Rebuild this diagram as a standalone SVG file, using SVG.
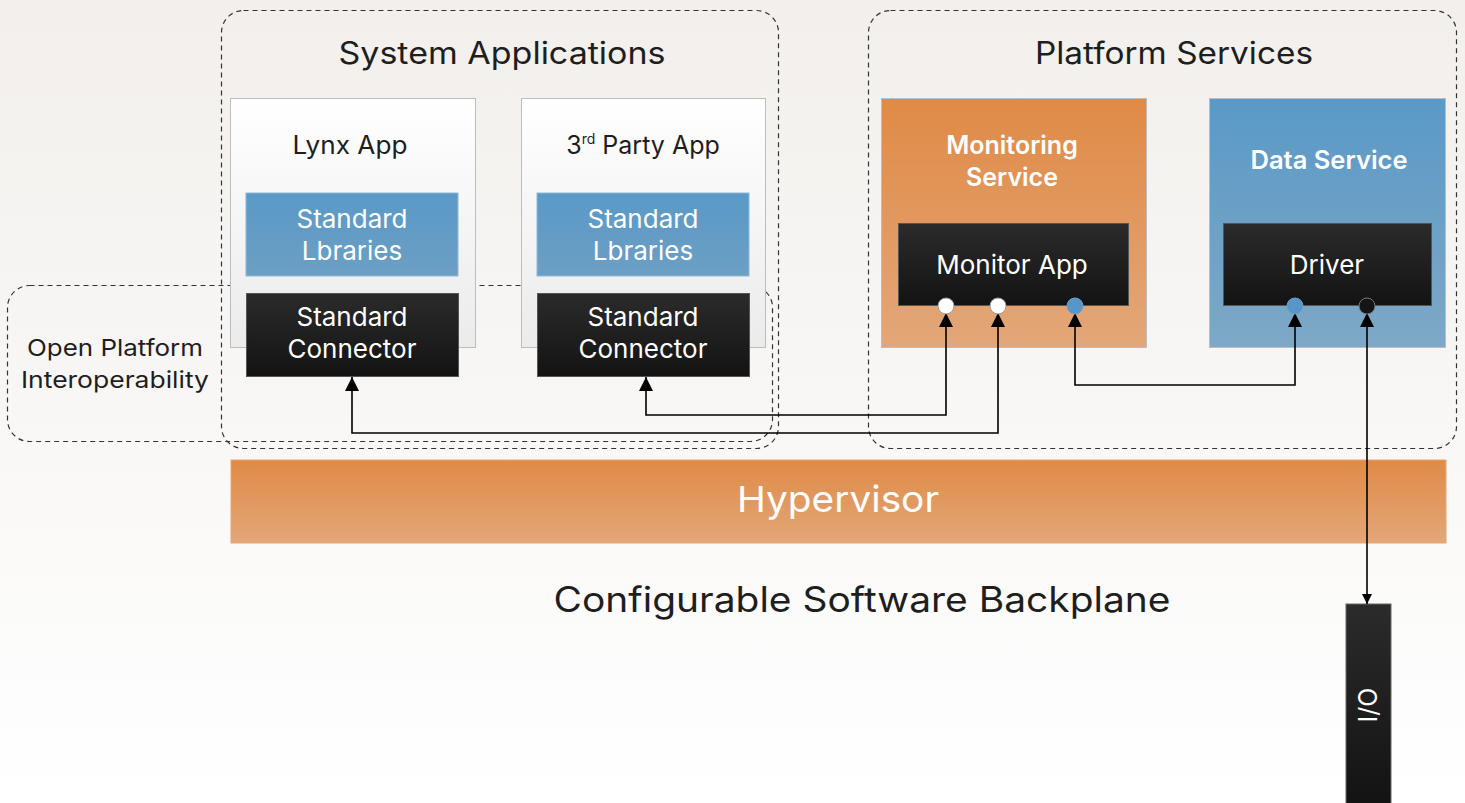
<svg xmlns="http://www.w3.org/2000/svg" width="1465" height="803" viewBox="0 0 1465 803">
<defs>
<linearGradient id="bg" x1="0" y1="0" x2="0" y2="1"><stop offset="0" stop-color="#f2efec"/><stop offset="1" stop-color="#ffffff"/></linearGradient>
<linearGradient id="org" x1="0" y1="0" x2="0" y2="1"><stop offset="0" stop-color="#e08a46"/><stop offset="1" stop-color="#e3a779"/></linearGradient>
<linearGradient id="blu" x1="0" y1="0" x2="0" y2="1"><stop offset="0" stop-color="#5a99c7"/><stop offset="1" stop-color="#7ea8c6"/></linearGradient>
<linearGradient id="lib" x1="0" y1="0" x2="0" y2="1"><stop offset="0" stop-color="#5a99c7"/><stop offset="1" stop-color="#6c9fc4"/></linearGradient>
<linearGradient id="blk" x1="0" y1="0" x2="0" y2="1"><stop offset="0" stop-color="#2b2b2b"/><stop offset="1" stop-color="#131313"/></linearGradient>
<linearGradient id="app" x1="0" y1="0" x2="0" y2="1"><stop offset="0" stop-color="#ffffff"/><stop offset="1" stop-color="#ebebec"/></linearGradient>
<marker id="ah" viewBox="0 0 14 14" refX="14" refY="7" markerWidth="14" markerHeight="14" markerUnits="userSpaceOnUse" orient="auto-start-reverse"><path d="M0,0 L14,7 L0,14 Z" fill="#000"/></marker>
<marker id="ahs" viewBox="0 0 10 10" refX="10" refY="5" markerWidth="10" markerHeight="10" markerUnits="userSpaceOnUse" orient="auto-start-reverse"><path d="M0,0 L10,5 L0,10 Z" fill="#000"/></marker>
</defs>
<style>
.dash{fill:none;stroke:#333;stroke-width:1.2;stroke-dasharray:5 4}
.t{font-family:Inter,"Noto Sans","Liberation Sans",sans-serif;text-anchor:middle}
.dk{fill:#1e1e1e}
.wh{fill:#ffffff}
.sb{font-weight:600}
.ln{fill:none;stroke:#000;stroke-width:1.6}
.box{stroke:#bdbdbd;stroke-width:1}
</style>
<rect width="1465" height="803" fill="url(#bg)"/>

<g id="system-applications">
<rect class="dash" x="221.5" y="10.5" width="557" height="438" rx="22"/>
<text class="t dk" x="502" y="64" font-size="31" textLength="327" lengthAdjust="spacingAndGlyphs">System Applications</text>
</g>
<g id="platform-services">
<rect class="dash" x="868.5" y="10.5" width="588" height="438" rx="22"/>
<text class="t dk" x="1174" y="64" font-size="31" textLength="278" lengthAdjust="spacingAndGlyphs">Platform Services</text>
</g>
<g id="open-platform">
<rect class="dash" x="7.5" y="285.5" width="765" height="156" rx="22"/>
<text class="t dk" x="115" y="356" font-size="23" textLength="176" lengthAdjust="spacingAndGlyphs">Open Platform</text>
<text class="t dk" x="115" y="388" font-size="23" textLength="188" lengthAdjust="spacingAndGlyphs">Interoperability</text>
</g>

<g id="lynx-app">
<rect class="box" x="230.5" y="98.5" width="245" height="249" fill="url(#app)"/>
<text class="t dk" x="350" y="154" font-size="25" textLength="115" lengthAdjust="spacingAndGlyphs">Lynx App</text>
</g>
<g id="third-party-app">
<rect class="box" x="521.5" y="98.5" width="244" height="249" fill="url(#app)"/>
<text class="t dk" x="643" y="154" font-size="25"><tspan>3</tspan><tspan font-size="14" dy="-10">rd</tspan><tspan dy="10"> Party App</tspan></text>
</g>
<g id="lynx-libraries">
<rect x="246" y="193" width="212" height="83" fill="url(#lib)" stroke="#8fb8d6" stroke-width="1"/>
<text class="t wh" x="352" y="228" font-size="26">Standard</text>
<text class="t wh" x="352" y="260" font-size="26">Lbraries</text>
</g>
<g id="third-libraries">
<rect x="537" y="193" width="212" height="83" fill="url(#lib)" stroke="#8fb8d6" stroke-width="1"/>
<text class="t wh" x="643" y="228" font-size="26">Standard</text>
<text class="t wh" x="643" y="260" font-size="26">Lbraries</text>
</g>
<g id="lynx-connector">
<rect x="246.5" y="293.5" width="212" height="83" fill="url(#blk)" stroke="#555" stroke-width="1"/>
<text class="t wh" x="352" y="326" font-size="26">Standard</text>
<text class="t wh" x="352" y="358" font-size="26">Connector</text>
</g>
<g id="third-connector">
<rect x="537.5" y="293.5" width="212" height="83" fill="url(#blk)" stroke="#555" stroke-width="1"/>
<text class="t wh" x="643" y="326" font-size="26">Standard</text>
<text class="t wh" x="643" y="358" font-size="26">Connector</text>
</g>

<g id="monitoring-service">
<rect class="box" x="881.5" y="98.5" width="265" height="249" fill="url(#org)"/>
<text class="t wh sb" x="1012" y="154" font-size="25">Monitoring</text>
<text class="t wh sb" x="1012" y="186" font-size="25">Service</text>
</g>
<g id="monitor-app">
<rect x="898.5" y="223.5" width="230" height="82" fill="url(#blk)" stroke="#555" stroke-width="1"/>
<text class="t wh" x="1012" y="274" font-size="26">Monitor App</text>
</g>
<g id="data-service">
<rect class="box" x="1209.5" y="98.5" width="236" height="249" fill="url(#blu)"/>
<text class="t wh sb" x="1329" y="169" font-size="25.5">Data Service</text>
</g>
<g id="driver">
<rect x="1223.5" y="223.5" width="208" height="82" fill="url(#blk)" stroke="#555" stroke-width="1"/>
<text class="t wh" x="1327" y="274" font-size="26">Driver</text>
</g>

<g id="hypervisor">
<rect x="231" y="460" width="1215" height="83" fill="url(#org)" stroke="#e3a677" stroke-width="1"/>
<text class="t wh" x="838" y="512" font-size="36" textLength="202" lengthAdjust="spacingAndGlyphs">Hypervisor</text>
</g>
<g id="backplane-label">
<text class="t dk" x="862" y="612" font-size="35" textLength="617" lengthAdjust="spacingAndGlyphs">Configurable Software Backplane</text>
</g>
<g id="io">
<rect x="1346" y="604" width="45" height="200" fill="url(#blk)" stroke="#666" stroke-width="1"/>
<text class="t wh" x="0" y="0" font-size="25" transform="translate(1377 705) rotate(-90)">I/O</text>
</g>

<g id="connectors">
<path class="ln" d="M646,377 V415 H946 V313" marker-start="url(#ah)" marker-end="url(#ah)"/>
<path class="ln" d="M352,377 V433 H998 V313" marker-start="url(#ah)" marker-end="url(#ah)"/>
<path class="ln" d="M1075,313 V385 H1295 V313" marker-start="url(#ah)" marker-end="url(#ah)"/>
<path class="ln" d="M1367,313 V604" marker-start="url(#ah)" marker-end="url(#ahs)"/>
</g>

<g id="ports">
<circle cx="946" cy="306" r="8" fill="#fff" stroke="#999" stroke-width="1"/>
<circle cx="998" cy="306" r="8" fill="#fff" stroke="#999" stroke-width="1"/>
<circle cx="1075" cy="306" r="8" fill="#5796c6" stroke="#6aa2cc" stroke-width="1"/>
<circle cx="1295" cy="306" r="8" fill="#5796c6" stroke="#6aa2cc" stroke-width="1"/>
<circle cx="1367" cy="306" r="8" fill="#151515" stroke="#777" stroke-width="1"/>
</g>
</svg>
